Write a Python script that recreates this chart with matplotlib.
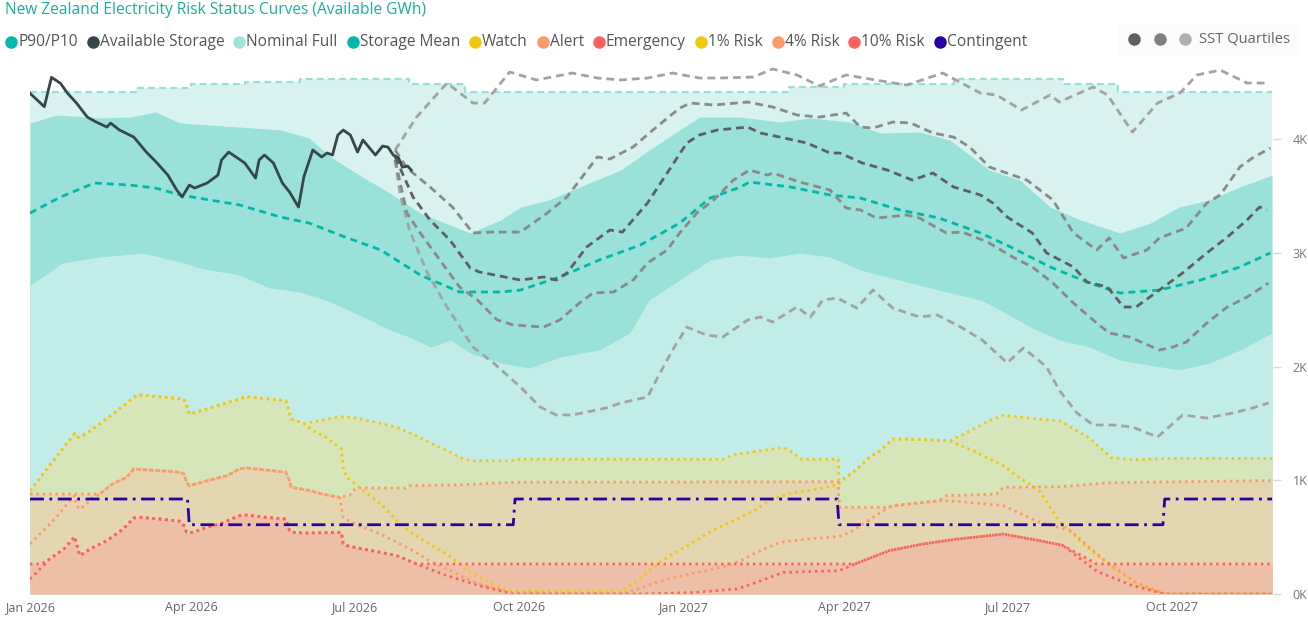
import numpy as np
import pandas as pd
import matplotlib
matplotlib.use('Agg')
import matplotlib.pyplot as plt
import matplotlib.dates as mdates
from matplotlib.ticker import FixedLocator, FuncFormatter

plt.rcParams['font.family'] = ['Open Sans', 'DejaVu Sans']

# ---- data (days after 1 Jan 2026, GWh) ----
start = pd.Timestamp('2026-01-01')
end_day = 694.5

nominal_day = [0, 59, 90, 120, 151, 212, 243, 424, 455, 516, 577, 608, 694]
nominal_gwh = [4415, 4445, 4480, 4503, 4525, 4483, 4415, 4455, 4483, 4530, 4483, 4415, 4415]

p90_day = [0, 5.6, 15, 39, 56, 70, 84, 117, 140, 156, 168, 184, 201, 218, 232, 246, 263, 274,
           290, 307, 330, 346, 363, 374, 397, 419, 436, 458, 475, 497, 514, 536, 553, 570, 587,
           609, 626, 642, 659, 676, 694]
p90_gwh = [4141, 4167, 4211, 4185, 4193, 4237, 4141, 4105, 4079, 4009, 3842, 3683, 3525, 3349,
           3261, 3174, 3288, 3402, 3464, 3578, 3727, 3903, 4079, 4193, 4193, 4149, 4185, 4149,
           4053, 4061, 3990, 3727, 3639, 3402, 3288, 3174, 3261, 3402, 3464, 3578, 3683]

p10_day = [0, 8.4, 18, 39, 63, 84, 95, 117, 134, 151, 168, 184, 201, 212, 224, 235, 246, 263,
           279, 296, 318, 335, 346, 363, 380, 397, 413, 430, 447, 464, 486, 508, 531, 542, 559,
           575, 592, 609, 626, 642, 659, 676, 694]
p10_gwh = [2716, 2804, 2910, 2963, 2998, 2919, 2866, 2804, 2690, 2655, 2567, 2453, 2321, 2259,
           2171, 2233, 2119, 2031, 1987, 2083, 2145, 2294, 2585, 2760, 2936, 2980, 2954, 2998,
           2963, 2848, 2760, 2672, 2585, 2497, 2347, 2233, 2171, 2057, 2013, 1969, 2031, 2145, 2294]

mean_day = [0, 17, 36, 56, 70, 84, 117, 140, 156, 173, 196, 218, 240, 263, 274, 296, 318, 341,
            363, 380, 397, 402, 425, 447, 464, 486, 508, 531, 548, 570, 592, 609, 631, 654, 676, 693]
mean_gwh = [3349, 3490, 3613, 3595, 3569, 3508, 3420, 3314, 3261, 3156, 3024, 2804, 2655, 2655,
            2672, 2787, 2936, 3068, 3261, 3481, 3578, 3622, 3578, 3508, 3481, 3376, 3305, 3174,
            3050, 2875, 2734, 2646, 2672, 2760, 2875, 2998]

storage_day = [0, 8, 12, 17, 21, 26, 32, 37, 43, 45, 50, 58, 65, 71, 77, 82, 85, 89, 92, 99,
               105, 107, 111, 116, 120, 126, 128, 131, 136, 141, 145, 150, 153, 158, 163, 166,
               169, 172, 175, 179, 183, 186, 193, 197, 200, 203, 206, 208, 211, 213]
storage_gwh = [4402, 4284, 4542, 4490, 4402, 4316, 4193, 4149, 4105, 4140, 4079, 4017, 3885,
               3789, 3683, 3551, 3490, 3595, 3569, 3613, 3683, 3815, 3885, 3832, 3789, 3657,
               3815, 3859, 3789, 3613, 3534, 3402, 3666, 3903, 3842, 3877, 3859, 4035, 4079,
               4035, 3885, 3991, 3859, 3938, 3929, 3859, 3832, 3753, 3762, 3727]

watch_day = [0, 13, 25, 27, 31, 47, 60, 86, 88, 89, 108, 121, 143, 146, 153, 173, 182, 196,
             205, 214, 223, 233, 242, 248, 269, 272, 387, 393, 402, 415, 421, 426, 431, 451.6,
             452, 456, 462, 469, 475, 482, 490, 514, 520, 527, 536, 544, 551, 564, 576, 592,
             604, 617, 635, 694]
watch_gwh = [908, 1172, 1412, 1377, 1406, 1591, 1752, 1714, 1641, 1582, 1670, 1735, 1699, 1538,
             1500, 1559, 1547, 1500, 1465, 1406, 1333, 1260, 1187, 1172, 1172, 1184, 1184, 1225,
             1245, 1275, 1289, 1245, 1184, 1184, 996, 1026, 1099, 1201, 1260, 1362, 1362, 1348,
             1392, 1450, 1524, 1573, 1559, 1538, 1520, 1370, 1200, 1180, 1192, 1192]

alert_day = [0, 39, 46, 54, 58, 73, 84, 86, 87.5, 89, 99, 110, 117, 121, 132, 143, 145, 146,
             155, 162, 168, 173, 179, 182, 210, 212, 242, 270, 451.5, 452.4, 478.5, 482, 508,
             512, 540, 544, 576, 604, 694]
alert_gwh = [879, 879, 967, 1026, 1099, 1084, 1070, 1055, 982, 952, 996, 1040, 1099, 1108, 1090,
             1070, 996, 938, 914, 885, 864, 850, 873, 932, 932, 952, 961, 982, 987, 762, 762,
             776, 820, 864, 879, 938, 944, 979, 997]

emergency_day = [0, 6.5, 11, 19, 25, 27, 28, 33.5, 43, 52, 58, 61.5, 73, 84, 86, 87.5, 91, 99,
                 106, 117, 121, 132, 143, 145, 146, 155, 174, 175, 177, 186, 196, 205, 214, 216,
                 460, 462, 480, 499, 518, 544, 564, 577, 596, 694]
emergency_gwh = [264, 264, 308, 396, 504, 381, 337, 396, 469, 571, 668, 674, 659, 639, 601, 542,
                 542, 586, 615, 689, 694, 674, 659, 557, 542, 536, 542, 440, 425, 396, 366, 337,
                 278, 264, 264, 270, 381, 440, 483, 527, 469, 428, 264, 264]

risk1_day = [0, 13, 25, 27, 31, 47, 60, 86, 88, 89, 108, 121, 143, 146, 153, 158, 165.5, 171.5,
             174, 175, 177, 184, 196, 205, 214, 223, 233, 242, 251, 261, 270, 330, 337, 346, 352,
             359, 369, 378, 387, 397, 406, 413, 423, 434, 445, 452, 456, 462, 469, 475, 482, 490,
             514, 520, 527, 536, 544, 551, 557, 564, 575, 590, 605, 620, 634, 694]
risk1_gwh = [908, 1172, 1412, 1377, 1406, 1591, 1752, 1714, 1641, 1582, 1670, 1735, 1699, 1538,
             1500, 1436, 1377, 1304, 1275, 1113, 1026, 938, 791, 645, 527, 440, 352, 234, 147, 73,
             25, 23, 88, 205, 279, 352, 440, 527, 601, 674, 747, 820, 879, 908, 938, 967, 1026,
             1099, 1201, 1260, 1362, 1362, 1348, 1304, 1260, 1187, 1128, 1040, 982, 908, 640, 420,
             230, 80, 0, 0]

risk4_day = [0, 7.4, 13, 18.6, 22, 25, 26, 28, 31.6, 34.4, 39, 46, 54, 58, 73, 84, 86, 87.5, 89,
             99, 110, 117, 121, 132, 143, 145, 146, 155, 162, 168, 173, 175, 176, 186, 196, 205,
             214, 223, 233, 242, 251, 261, 268, 330, 341, 350, 359, 369, 378, 389, 397, 406, 419,
             434, 452, 460, 471, 478.5, 482, 508, 518, 544, 548, 564, 581, 600, 618, 634, 694]
risk4_gwh = [440, 557, 645, 747, 820, 864, 776, 747, 791, 835, 879, 967, 1026, 1099, 1084, 1070,
             1055, 982, 952, 996, 1040, 1099, 1108, 1090, 1070, 996, 938, 914, 885, 864, 850, 674,
             659, 586, 527, 454, 381, 293, 220, 147, 88, 44, 15, 0, 53, 103, 141, 176, 205, 249,
             293, 366, 454, 483, 504, 557, 674, 747, 776, 820, 815, 776, 747, 630, 560, 300, 100,
             0, 0]

risk10_day = [0, 4.7, 11, 19, 25, 27, 28, 33.5, 43, 52, 58, 61.5, 73, 84, 86, 87.5, 91, 99, 106,
              117, 121, 132, 143, 145, 146, 155, 174, 175, 177, 186, 196, 205, 214, 223, 233, 242,
              251, 261, 270, 341, 369, 395, 406, 421, 452, 462, 480, 499, 518, 544, 564, 577, 596,
              615, 634, 694]
risk10_gwh = [132, 205, 308, 396, 504, 381, 337, 396, 469, 571, 668, 674, 659, 639, 601, 542, 542,
              586, 615, 689, 694, 674, 659, 557, 542, 536, 542, 440, 425, 396, 366, 337, 278, 220,
              161, 117, 73, 35, 0, 0, 12, 44, 103, 190, 205, 270, 381, 440, 483, 527, 469, 428,
              200, 80, 0, 0]

contingent_day = [0, 88, 89, 270, 271, 451, 452, 633, 634, 694]
contingent_gwh = [835, 835, 609, 609, 835, 835, 609, 609, 835, 835]

sst_max_day = [204, 216, 233, 247.5, 254, 268, 283, 303, 317, 330, 345, 359, 374, 385.5, 404,
               415, 428.5, 441, 456, 479, 490, 510, 531, 540, 554, 570, 575, 594, 602, 616, 630,
               642.5, 652, 665, 680, 692]
sst_max_gwh = [3903, 4193, 4492, 4316, 4316, 4589, 4519, 4580, 4536, 4519, 4536, 4580, 4536,
               4536, 4545, 4615, 4563, 4466, 4563, 4501, 4475, 4580, 4404, 4387, 4255, 4387,
               4325, 4457, 4387, 4061, 4316, 4404, 4563, 4606, 4492, 4492]

sst_q3_day = [204, 210.6, 223.5, 236, 247.5, 257, 274, 289, 300, 317, 324, 337, 348, 363, 369,
              382, 401, 415, 428.5, 441, 456, 464, 471, 482, 492, 504.5, 516, 525, 536, 549, 557,
              571.5, 583, 596, 603, 611, 624, 631, 646, 657.5, 665, 676, 683, 693]
sst_q3_gwh = [3903, 3745, 3578, 3402, 3174, 3182, 3182, 3349, 3490, 3842, 3824, 3930, 4079, 4272,
              4316, 4299, 4325, 4281, 4211, 4193, 4228, 4105, 4097, 4149, 4141, 4053, 4017, 3930,
              3754, 3683, 3639, 3464, 3174, 3024, 3130, 2954, 3024, 3130, 3217, 3437, 3508, 3754,
              3833, 3921]

sst_med_day = [204, 214, 223.5, 234.6, 246, 251, 274, 287, 294, 300, 311, 324, 331, 345, 356,
               367, 374, 384, 401, 408, 419, 434, 447, 452.5, 465, 479, 493, 504.5, 516, 531, 538,
               546, 560, 568, 583, 590.5, 602, 611, 618, 631, 644, 657.5, 669, 680, 687, 691]
sst_med_gwh = [3842, 3490, 3288, 3112, 2866, 2831, 2760, 2787, 2760, 2822, 3050, 3200, 3182,
               3437, 3701, 3965, 4035, 4079, 4105, 4053, 4017, 3965, 3877, 3877, 3789, 3727, 3639,
               3701, 3578, 3508, 3437, 3314, 3174, 2998, 2875, 2743, 2699, 2523, 2523, 2672, 2822,
               2998, 3138, 3288, 3402, 3376]

sst_q1_day = [204, 210.6, 218, 229, 240, 250, 261, 270, 287, 296, 307, 314.5, 326, 337, 345, 356,
              363, 372.6, 382, 393, 402, 412, 415, 430, 447, 456, 464, 473, 490, 497, 512, 521,
              535, 549, 560, 571.5, 583, 596, 603, 614.5, 631, 638.5, 646, 657.5, 669, 680, 692]
sst_q1_gwh = [3815, 3349, 3174, 2936, 2699, 2585, 2409, 2365, 2347, 2409, 2558, 2646, 2655, 2760,
              2910, 3024, 3174, 3349, 3464, 3639, 3727, 3683, 3701, 3622, 3551, 3393, 3376, 3305,
              3332, 3305, 3174, 3182, 3094, 2963, 2875, 2734, 2558, 2382, 2294, 2259, 2145, 2171,
              2215, 2382, 2523, 2611, 2734]

sst_min_day = [204, 206.7, 212, 222, 233, 247.5, 259, 274, 285, 294, 303, 322, 330, 345, 352, 359,
               367, 378, 387, 401, 408, 415, 428.5, 436, 443, 451, 462, 471, 482, 497, 507, 520,
               532, 546, 555, 568, 575, 585, 594, 605, 616, 630, 644, 657.5, 672, 683, 692]
sst_min_gwh = [3815, 3525, 3200, 2822, 2523, 2171, 2031, 1820, 1644, 1574, 1574, 1635, 1679, 1732,
               1943, 2145, 2347, 2277, 2259, 2409, 2435, 2391, 2523, 2435, 2585, 2602, 2514, 2672,
               2514, 2435, 2453, 2347, 2233, 2031, 2163, 1996, 1793, 1591, 1486, 1486, 1468, 1380,
               1574, 1547, 1591, 1635, 1679]

legend_labels = ['P90/P10', 'Available Storage', 'Nominal Full', 'Storage Mean', 'Watch', 'Alert',
                 'Emergency', '1% Risk', '4% Risk', '10% Risk', 'Contingent']
legend_colors = ['#01b8aa', '#374649', '#9fe3db', '#01b8aa', '#f2c80f', '#fd9a6c', '#fd625e',
                 '#f2c80f', '#fd9a6c', '#fd625e', '#2b00a3']
sst_colors = ['#5f5f5f', '#808080', '#b0b0b0']


def when(days):
    return start + pd.to_timedelta(np.asarray(days, dtype=float), unit='D')


W, H = 1308, 618
fig = plt.figure(figsize=(W / 100, H / 100), dpi=100)
ax = fig.add_axes([30 / W, 24 / H, 1243 / W, 532 / H])

# background areas
ax.fill_between(when(nominal_day), 0, nominal_gwh, step='post', color='#d8f2ef', lw=0, zorder=1)
ax.fill_between(when(p90_day), 0, p90_gwh, color='#99e1d9', lw=0, zorder=2)
ax.fill_between(when(p10_day), 0, p10_gwh, color='#c2ece8', lw=0, zorder=3)
ax.fill_between(when(watch_day), 0, watch_gwh, color='#d6e6ba', lw=0, zorder=4)
ax.fill_between(when(alert_day), 0, alert_gwh, color='#e4d6b0', lw=0, zorder=5)
ax.fill_between(when(emergency_day), 0, emergency_gwh, color='#eebfa8', lw=0, zorder=6)

dots = (0, (0.9, 1.4))
ax.plot(when(risk1_day), risk1_gwh, color='#f2c80f', lw=2, ls=dots, zorder=7)
ax.plot(when(risk4_day), risk4_gwh, color='#fd9a6c', lw=2, ls=dots, zorder=7)
ax.plot(when(risk10_day), risk10_gwh, color='#fd625e', lw=2, ls=dots, zorder=7)
ax.plot(when(watch_day), watch_gwh, color='#f2c80f', lw=2, ls=dots, zorder=8)
ax.plot(when(alert_day), alert_gwh, color='#fd9a6c', lw=2, ls=dots, zorder=8)
ax.plot(when(emergency_day), emergency_gwh, color='#fd625e', lw=2, ls=dots, zorder=8)
ax.plot(when(contingent_day), contingent_gwh, color='#2b00a3', lw=2, ls=(0, (5, 2, 1, 2)), zorder=9)

ax.plot(when(nominal_day), nominal_gwh, drawstyle='steps-post', color='#98e0d7', lw=1.6,
        ls=(0, (3, 2)), zorder=9)
ax.plot(when(mean_day), mean_gwh, color='#01b8aa', lw=2, ls=(0, (2.5, 1.8)), zorder=10)

sst_dash = (0, (2.8, 1.8))
ax.plot(when(sst_max_day), sst_max_gwh, color='#a3a3a3', lw=2, ls=sst_dash, zorder=10)
ax.plot(when(sst_min_day), sst_min_gwh, color='#a3a3a3', lw=2, ls=sst_dash, zorder=10)
ax.plot(when(sst_q3_day), sst_q3_gwh, color='#8a8a8a', lw=2, ls=sst_dash, zorder=10)
ax.plot(when(sst_q1_day), sst_q1_gwh, color='#8a8a8a', lw=2, ls=sst_dash, zorder=10)
ax.plot(when(sst_med_day), sst_med_gwh, color='#5f5f5f', lw=2, ls=sst_dash, zorder=11)

ax.plot(when(storage_day), storage_gwh, color='#374649', lw=2, zorder=12)

ax.set_xlim(start, start + pd.Timedelta(days=end_day))
ax.set_ylim(0, 4677)
for s in ax.spines.values():
    s.set_visible(False)

ax.xaxis.set_major_locator(mdates.MonthLocator(bymonth=[1, 4, 7, 10]))
ax.xaxis.set_major_formatter(mdates.DateFormatter('%b %Y'))
ax.tick_params(axis='x', length=0, pad=5, labelsize=9, labelcolor='#666666')

ax.yaxis.set_major_locator(FixedLocator([0, 1000, 2000, 3000, 4000]))
ax.yaxis.set_major_formatter(FuncFormatter(lambda v, p: '%dK' % (v / 1000)))
ax.yaxis.tick_right()
ax.tick_params(axis='y', length=6, color='#d9d9d9', width=1, pad=8, labelsize=9,
               labelcolor='#777777')

# title
fig.text(5 / W, 1 - 10 / H, 'New Zealand Electricity Risk Status Curves (Available GWh)',
         color='#1aae9f', fontsize=11.2, va='center', ha='left')

# legend row, laid out from measured text widths
fig.canvas.draw()
renderer = fig.canvas.get_renderer()
cursor = 11
for lab, col in zip(legend_labels, legend_colors):
    fig.add_artist(plt.Line2D([cursor / W], [1 - 42 / H], marker='o', ms=8, color=col,
                              mec=col, ls='', transform=fig.transFigure))
    t = fig.text((cursor + 7) / W, 1 - 42 / H, lab, color='#555555', fontsize=11.2,
                 va='center', ha='left')
    bb = t.get_window_extent(renderer)
    cursor = bb.x1 + 15

fig.patches.append(plt.Rectangle((1118 / W, 1 - 56 / H), 182 / W, 32 / H,
                                 transform=fig.transFigure, color='#fbfbfb', lw=0, zorder=0))
for i, col in enumerate(sst_colors):
    fig.add_artist(plt.Line2D([(1134 + 25.5 * i) / W], [1 - 39 / H], marker='o', ms=8,
                              color=col, mec=col, ls='', transform=fig.transFigure))
fig.text(1199 / W, 1 - 39 / H, 'SST Quartiles', color='#666666', fontsize=10.6,
         va='center', ha='left')

fig.savefig('out.png', dpi=100)
